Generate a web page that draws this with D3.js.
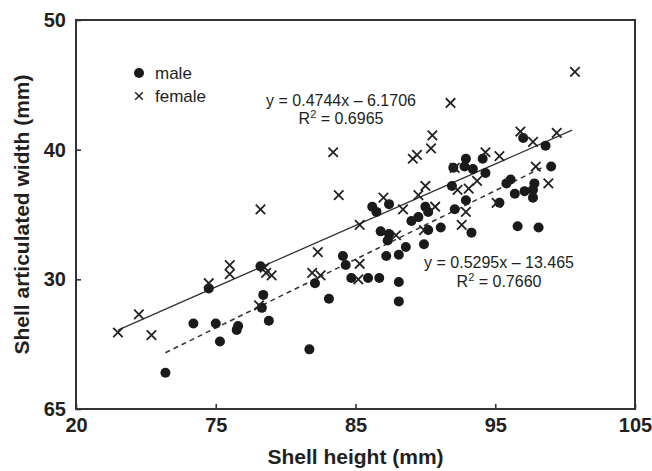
<!DOCTYPE html>
<html>
<head>
<meta charset="utf-8">
<script src="https://cdn.jsdelivr.net/npm/d3@7"></script>
<style>
  html, body { margin: 0; padding: 0; background: #fff; }
  svg { display: block; font-family: "Liberation Sans", Arial, sans-serif; }
</style>
</head>
<body>
<svg id="chart" width="652" height="471"></svg>
<script>
// shell height (x) / articulated width (y)
const maleX = [74.5, 78.2, 78.4, 78.3, 78.8, 73.4, 75.0, 76.6, 76.5, 75.3, 71.4, 81.7, 82.1, 83.1, 84.1,
    84.3, 84.7, 86.8, 87.4, 87.3, 87.2, 88.1, 88.6, 89.0, 89.5, 90.2, 91.1, 89.9, 93.3, 96.6,
    98.1, 85.9, 86.7, 88.1, 88.1, 97.0, 98.6, 99.0, 94.1, 92.9, 92.8, 93.4, 92.0, 94.3, 91.9,
    92.9, 95.8, 96.1, 96.4, 97.1, 97.7, 97.8, 97.7, 95.3, 86.2, 86.5, 87.4, 90.0, 90.2, 92.1];
const maleY = [29.3, 31.0, 28.8, 27.8, 26.8, 26.6, 26.6, 26.4, 26.1, 25.2, 22.8, 24.6, 29.7, 28.5, 31.8,
    31.1, 30.1, 33.7, 33.5, 33.0, 31.8, 31.9, 32.5, 34.5, 34.8, 33.8, 34.0, 32.7, 33.6, 34.1,
    34.0, 30.1, 30.1, 29.8, 28.3, 40.9, 40.3, 38.7, 39.3, 39.3, 38.7, 38.5, 38.6, 38.2, 37.2,
    36.1, 37.4, 37.7, 36.6, 36.8, 36.9, 37.4, 36.3, 35.9, 35.6, 35.2, 35.8, 35.6, 35.2, 35.4];

const femaleX = [83.4, 83.8, 78.2, 68.0, 69.5, 70.4, 74.5, 76.0, 76.0, 78.5, 78.6, 79.0, 78.1, 82.3, 81.9,
    82.5, 87.9, 89.9, 92.6, 85.3, 85.2, 85.3, 100.7, 91.8, 90.5, 90.4, 89.1, 89.4, 96.8, 97.7,
    99.4, 94.3, 95.3, 97.9, 98.8, 93.7, 93.1, 90.0, 89.5, 87.0, 92.3, 90.7, 88.4, 92.9, 95.1, 92.1];
const femaleY = [39.8, 36.5, 35.4, 25.9, 27.3, 25.7, 29.7, 31.1, 30.4, 30.9, 30.5, 30.3, 28.0, 32.1, 30.5,
    30.3, 33.4, 33.8, 34.2, 31.2, 30.0, 34.2, 46.0, 43.6, 41.1, 40.1, 39.3, 39.6, 41.4, 40.6,
    41.3, 39.8, 39.5, 38.7, 37.4, 37.6, 37.0, 37.2, 36.5, 36.3, 36.9, 35.6, 35.4, 35.2, 35.9, 38.6];

// fitted lines (slope, intercept, x extent)
const femaleFit = [0.4744, -6.1706];
const femaleFitRange = [68.0, 100.5];
const maleFit = [0.5295, -13.465];
const maleFitRange = [71.4, 98.4];

// ticks and the labels printed on them
const xTicks = [65, 75, 85, 95, 105];
const xTickLabels = ['20', '75', '85', '95', '105'];
const yTicks = [20, 30, 40, 50];
const yTickLabels = ['65', '30', '40', '50'];

const svg = d3.select('#chart');
const plotL = 76, plotR = 635, plotT = 20, plotB = 409;
const ink = '#231f20';

const x = d3.scaleLinear().domain([65, 105]).range([plotL, plotR]);
const y = d3.scaleLinear().domain([20, 50]).range([plotB, plotT]);

// axes, ticks pointing inward
const xAxis = d3.axisBottom(x).tickValues(xTicks).tickSize(-5).tickPadding(9)
    .tickFormat((d, i) => xTickLabels[i]);
const yAxis = d3.axisLeft(y).tickValues(yTicks).tickSize(-5).tickPadding(9)
    .tickFormat((d, i) => yTickLabels[i]);

const gx = svg.append('g').attr('transform', `translate(0,${plotB})`).call(xAxis);
const gy = svg.append('g').attr('transform', `translate(${plotL},0)`).call(yAxis);
[gx, gy].forEach(g => {
    g.select('.domain').remove();
    g.selectAll('.tick line').attr('stroke', '#333').attr('stroke-width', 1.6);
    g.selectAll('.tick text').attr('fill', ink).attr('font-size', 20).attr('font-weight', 'bold')
        .attr('font-family', '"Liberation Sans", Arial, sans-serif');
});
gy.selectAll('.tick text').attr('x', -10);

// frame
svg.append('rect')
    .attr('x', plotL).attr('y', plotT)
    .attr('width', plotR - plotL).attr('height', plotB - plotT)
    .attr('fill', 'none').attr('stroke', '#333').attr('stroke-width', 2);

// axis titles
svg.append('text')
    .attr('x', (plotL + plotR) / 2).attr('y', 464)
    .attr('text-anchor', 'middle').attr('font-size', 21).attr('font-weight', 'bold')
    .attr('fill', ink).text('Shell height (mm)');
svg.append('text')
    .attr('transform', `translate(29,${(plotT + plotB) / 2}) rotate(-90)`)
    .attr('text-anchor', 'middle').attr('font-size', 21).attr('font-weight', 'bold')
    .attr('fill', ink).text('Shell articulated width (mm)');

// regression lines
const line = d3.line().x(d => x(d[0])).y(d => y(d[1]));
const fitPts = (fit, range) => range.map(v => [v, fit[0] * v + fit[1]]);

svg.append('path').datum(fitPts(femaleFit, femaleFitRange))
    .attr('d', line).attr('fill', 'none').attr('stroke', '#333').attr('stroke-width', 1.3);
svg.append('path').datum(fitPts(maleFit, maleFitRange))
    .attr('d', line).attr('fill', 'none').attr('stroke', '#333').attr('stroke-width', 1.5)
    .attr('stroke-dasharray', '5,4');

// male points
svg.append('g').selectAll('circle')
    .data(d3.zip(maleX, maleY))
    .join('circle')
    .attr('cx', d => x(d[0])).attr('cy', d => y(d[1]))
    .attr('r', 5).attr('fill', '#1a1a1a');

// female points
const cross = d3.symbol().type(d3.symbolX).size(60);
svg.append('g').selectAll('path')
    .data(d3.zip(femaleX, femaleY))
    .join('path')
    .attr('transform', d => `translate(${x(d[0])},${y(d[1])})`)
    .attr('d', cross).attr('fill', 'none').attr('stroke', '#222').attr('stroke-width', 1.8);

// legend
svg.append('circle').attr('cx', 139).attr('cy', 73).attr('r', 5).attr('fill', '#1a1a1a');
svg.append('path').attr('transform', 'translate(139,96)').attr('d', d3.symbol().type(d3.symbolX).size(40))
    .attr('fill', 'none').attr('stroke', '#222').attr('stroke-width', 1.5);
svg.append('text').attr('x', 155).attr('y', 79).attr('font-size', 17).attr('fill', ink).text('male');
svg.append('text').attr('x', 155).attr('y', 102).attr('font-size', 17).attr('fill', ink).text('female');

// equations
const eqs = [
    { cx: 341, y1: 106, y2: 124, eq: 'y = 0.4744x – 6.1706', r2: '0.6965' },
    { cx: 499, y1: 268, y2: 287, eq: 'y = 0.5295x – 13.465', r2: '0.7660' }
];
eqs.forEach(e => {
    svg.append('text').attr('x', e.cx).attr('y', e.y1).attr('text-anchor', 'middle')
        .attr('font-size', 16).attr('fill', ink).text(e.eq);
    const t = svg.append('text').attr('x', e.cx).attr('y', e.y2).attr('text-anchor', 'middle')
        .attr('font-size', 16).attr('fill', ink);
    t.append('tspan').text('R');
    t.append('tspan').attr('font-size', 11).attr('dy', -6).text('2');
    t.append('tspan').attr('dy', 6).text(' = ' + e.r2);
});
</script>
</body>
</html>
